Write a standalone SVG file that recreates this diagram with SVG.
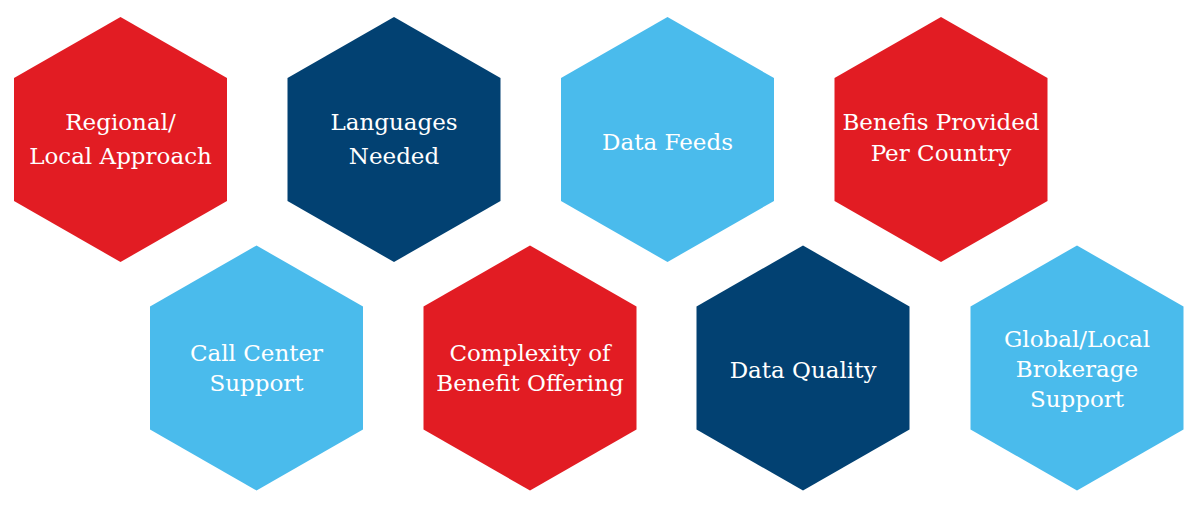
<svg xmlns="http://www.w3.org/2000/svg" width="1195" height="507" viewBox="0 0 1195 507">
<defs>
<style>
.red{fill:#E21C23}
.navy{fill:#024172}
.blue{fill:#4ABBEC}
text{font-family:"DejaVu Serif","Liberation Serif",serif;font-size:23px;fill:#FFFFFF;text-anchor:middle}
</style>
<polygon id="hex" points="0,-122.5 106.5,-61.5 106.5,61.5 0,122.5 -106.5,61.5 -106.5,-61.5"/>
</defs>
<rect width="1195" height="507" fill="#FFFFFF"/>
<g id="connectors"></g>
<g id="n1" transform="translate(120.5,139.5)">
<use href="#hex" class="red"/>
<text x="0" y="-9.5">Regional/</text>
<text x="0" y="24.5">Local Approach</text>
</g>
<g id="n2" transform="translate(394,139.5)">
<use href="#hex" class="navy"/>
<text x="0" y="-9.5">Languages</text>
<text x="0" y="24.5">Needed</text>
</g>
<g id="n3" transform="translate(667.5,139.5)">
<use href="#hex" class="blue"/>
<text x="0" y="10">Data Feeds</text>
</g>
<g id="n4" transform="translate(941,139.5)">
<use href="#hex" class="red"/>
<text x="0" y="-10">Benefis Provided</text>
<text x="0" y="21">Per Country</text>
</g>
<g id="n5" transform="translate(256.5,368)">
<use href="#hex" class="blue"/>
<text x="0" y="-7.5">Call Center</text>
<text x="0" y="22.5">Support</text>
</g>
<g id="n6" transform="translate(530,368)">
<use href="#hex" class="red"/>
<text x="0" y="-7.5">Complexity of</text>
<text x="0" y="22.5">Benefit Offering</text>
</g>
<g id="n7" transform="translate(803,368)">
<use href="#hex" class="navy"/>
<text x="0" y="10">Data Quality</text>
</g>
<g id="n8" transform="translate(1077,368)">
<use href="#hex" class="blue"/>
<text x="0" y="-21">Global/Local</text>
<text x="0" y="9">Brokerage</text>
<text x="0" y="39">Support</text>
</g>
</svg>
